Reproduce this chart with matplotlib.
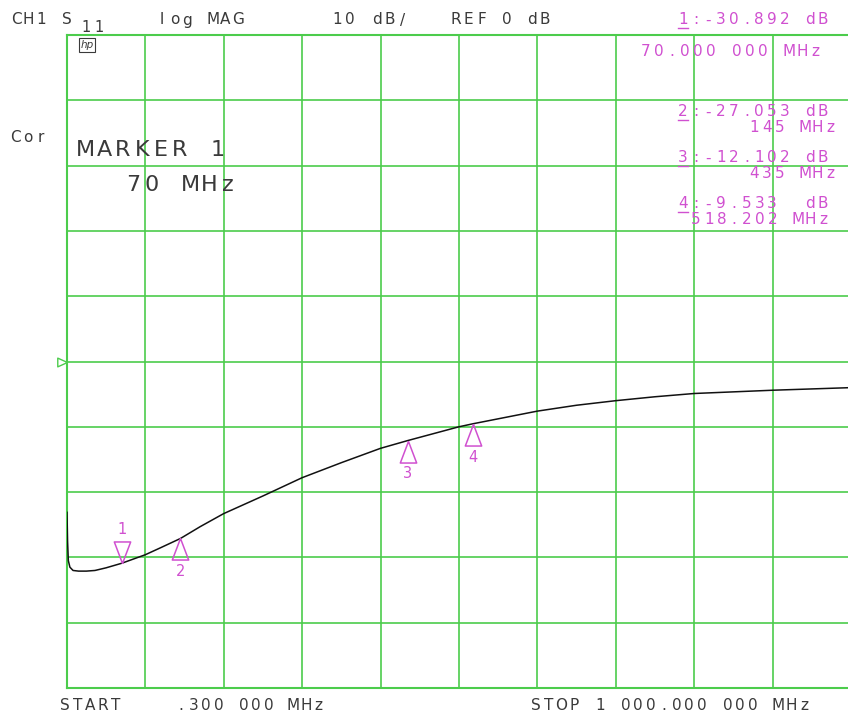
import matplotlib
matplotlib.use('Agg')
import matplotlib.pyplot as plt
from matplotlib.lines import Line2D

# trace values (MHz, dB)
freq_mhz = [0.3, 1.0, 2.0, 4.0, 8.0, 15, 25, 36, 50, 70, 100, 120, 145, 170, 200,
            250, 300, 350, 400, 435, 500, 518.2, 600, 650, 700, 750, 800, 850, 900, 950, 1000]
s11_db = [-23.1, -27.5, -30.5, -31.5, -32.0, -32.1, -32.1, -32.0, -31.6, -30.9, -29.6, -28.5,
          -27.1, -25.3, -23.3, -20.6, -17.8, -15.5, -13.3, -12.1, -10.0, -9.53, -7.6, -6.7,
          -6.0, -5.4, -4.9, -4.65, -4.4, -4.2, -4.0]

# markers
marker_ids = ['1', '2', '3', '4']
marker_freq = [70.0, 145.0, 435.0, 518.202]
marker_db = [-30.892, -27.053, -12.102, -9.533]
marker_val_txt = ['1:-30.892 dB', '2:-27.053 dB', '3:-12.102 dB', '4:-9.533  dB']
marker_freq_txt = ['70.000 000 MHz', '145 MHz', '435 MHz', '518.202 MHz']

start_mhz, stop_mhz = 0.3, 1000.0
ref_db, scale_db = 0.0, 10.0

W, H = 848, 720
GRID = '#4ccc4c'
INK = '#3a3a3a'
MAG = '#d050d0'

fig = plt.figure(figsize=(W / 100, H / 100), dpi=100)
fig.patch.set_facecolor('white')
ax = fig.add_axes([67 / W, 1 - 688 / H, 784 / W, 653 / H])

ax.plot(freq_mhz, s11_db, color='#111111', lw=1.1, zorder=3)

ax.set_xlim(start_mhz, stop_mhz)
ax.set_ylim(ref_db - 5 * scale_db, ref_db + 5 * scale_db)
ax.set_xticks([start_mhz + i * (stop_mhz - start_mhz) / 10 for i in range(11)])
ax.set_yticks([ref_db + (i - 5) * scale_db for i in range(11)])
ax.grid(True, color=GRID, lw=1.2)
ax.tick_params(length=0, labelbottom=False, labelleft=False)
for sp in ax.spines.values():
    sp.set_color(GRID)
    sp.set_linewidth(1.5)

# marker triangles with the tip on the trace
down_tri = [(0, 0), (-0.38, 1), (0.38, 1), (0, 0)]
up_tri = [(0, 0), (-0.38, -1), (0.38, -1), (0, 0)]
for i, (mid, f, d) in enumerate(zip(marker_ids, marker_freq, marker_db)):
    if i == 0:
        ax.plot([f], [d], marker=down_tri, ms=31, mfc='none', mec=MAG, mew=1.1, zorder=4)
        ax.annotate(mid, (f, d), xytext=(0, 24), textcoords='offset points',
                    ha='center', va='center', color=MAG, fontsize=10.5)
    else:
        ax.plot([f], [d], marker=up_tri, ms=31, mfc='none', mec=MAG, mew=1.1, zorder=4)
        ax.annotate(mid, (f, d), xytext=(0, -24), textcoords='offset points',
                    ha='center', va='center', color=MAG, fontsize=10.5)

# reference position marker at the left edge
ref_tri = [(0, 0), (-1, 0.45), (-1, -0.45), (0, 0)]
ax.plot([start_mhz], [ref_db], marker=ref_tri, ms=14, mfc='none', mec=GRID, mew=1.0,
        clip_on=False, zorder=5)


def hp_text(x, y, s, pitch=12.7, size=11, color=INK):
    # fixed-pitch text like the analyzer screen font
    for k, ch in enumerate(s):
        if ch != ' ':
            fig.text((x + k * pitch) / W, 1 - y / H, ch, ha='center', va='center',
                     fontsize=size, color=color, family='DejaVu Sans')


def underline(x, y, w=10):
    fig.add_artist(Line2D([(x - w / 2) / W, (x + w / 2) / W], [1 - y / H, 1 - y / H],
                          color=MAG, lw=1.0))


# header
hp_text(16, 20, 'CH1')
hp_text(67, 20, 'S')
hp_text(86, 27, '11', size=10.5)
hp_text(162, 20, 'log MAG')
hp_text(337, 20, '10 dB/', pitch=13.2)
hp_text(456, 20, 'REF 0 dB')
hp_text(683, 20, marker_val_txt[0], color=MAG)
underline(683, 28)
hp_text(646, 51, marker_freq_txt[0], pitch=13.0, color=MAG)

# hp logo
fig.text(87 / W, 1 - 45 / H, 'hp', ha='center', va='center', fontsize=7.5, style='italic',
         color=INK, bbox=dict(boxstyle='square,pad=0.15', fc='none', ec=INK, lw=0.8))

hp_text(15, 137, 'Cor', pitch=13)
hp_text(85, 150, 'MARKER 1', pitch=19, size=16)
hp_text(133, 185, '70 MHz', pitch=19, size=16)

# marker readouts on the right
val_y = [112, 158, 204]
freq_y = [128, 174, 219]
freq_x = [754, 754, 696]
for i in range(1, 4):
    hp_text(683, val_y[i - 1], marker_val_txt[i], color=MAG)
    underline(683, val_y[i - 1] + 8)
    hp_text(freq_x[i - 1], freq_y[i - 1], marker_freq_txt[i], color=MAG)

# footer
hp_text(65, 705, 'START')
hp_text(181, 705, '.300 000 MHz', pitch=12.5)
hp_text(536, 705, 'STOP 1 000.000 000 MHz', pitch=12.76)

fig.savefig('out.png', dpi=100, facecolor='white')
